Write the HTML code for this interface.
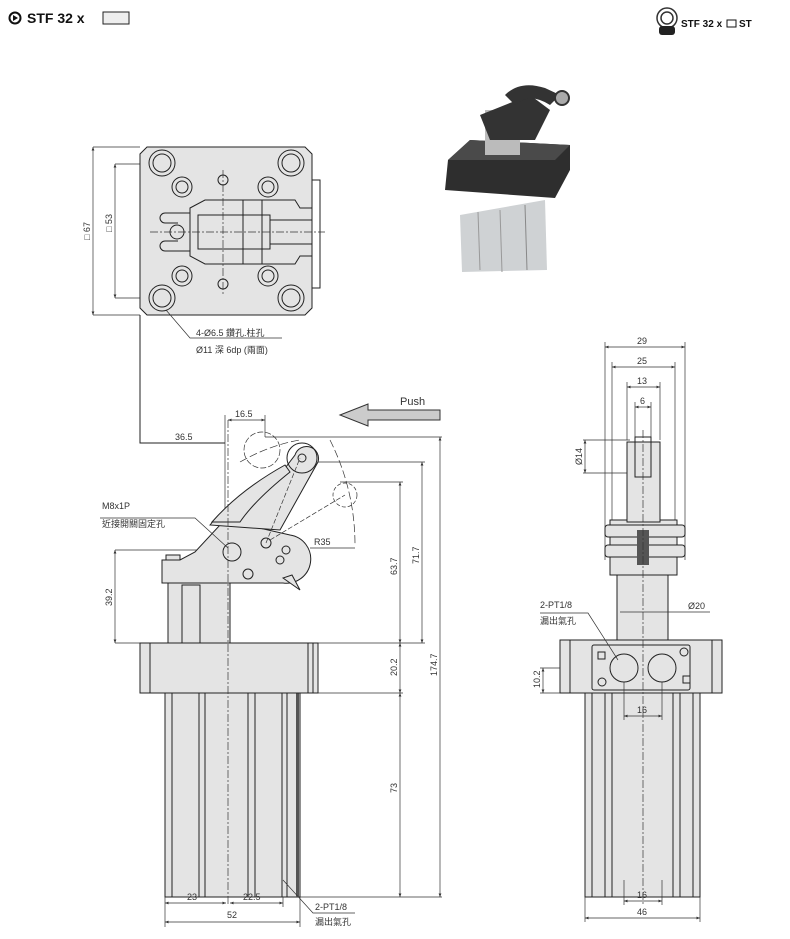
<!DOCTYPE html>
<html><head><meta charset="utf-8"><style>
body{margin:0;background:#fff;}
svg{display:block;font-family:"Liberation Sans","Noto Sans CJK TC",sans-serif;}
.l{stroke:#222;stroke-width:1;fill:none}
.t{stroke:#333;stroke-width:.7;fill:none}
.f{fill:#e4e4e4;stroke:#222;stroke-width:1}
.c{stroke:#333;stroke-width:.7;stroke-dasharray:8 2 2 2;fill:none}
text{font-size:9px;fill:#333}
</style></head><body>
<svg width="790" height="939" viewBox="0 0 790 939">
<defs><marker id="a" markerWidth="6" markerHeight="6" refX="5" refY="3" orient="auto-start-reverse"><path d="M0,1 L5,3 L0,5z" fill="#333"/></marker></defs>
<!-- header -->
<circle cx="15" cy="18" r="5.5" fill="none" stroke="#111" stroke-width="2"/><path d="M13,15 L18,18 L13,21z" fill="#111"/>
<text x="27" y="23" style="font-size:14px;font-weight:bold;fill:#111">STF 32 x</text>
<rect x="103" y="12" width="26" height="12" fill="#eee" stroke="#222"/>
<circle cx="667" cy="18" r="10" fill="none" stroke="#333" stroke-width="1.5"/><circle cx="667" cy="18" r="6" fill="none" stroke="#333" stroke-width="1.5"/><rect x="659" y="26" width="16" height="9" rx="3" fill="#222"/>
<text x="681" y="27" style="font-size:10px;font-weight:bold;fill:#111">STF 32 x</text><rect x="727" y="20" width="9" height="7" fill="none" stroke="#111"/><text x="739" y="27" style="font-size:10px;font-weight:bold;fill:#111">ST</text>
<!-- photo -->
<polygon points="460,215 545,200 547,270 462,272" fill="#cfd2d4"/>
<line x1="478" y1="212" x2="480" y2="270" stroke="#999"/><line x1="500" y1="210" x2="502" y2="272" stroke="#999"/><line x1="525" y1="205" x2="527" y2="270" stroke="#888"/>
<polygon points="448,160 470,140 570,145 570,170 555,198 445,190" fill="#2e2e2e"/>
<polygon points="448,160 470,140 570,145 555,160" fill="#4a4a4a"/>
<rect x="485" y="110" width="35" height="45" fill="#bbb"/>
<polygon points="480,115 530,95 550,110 535,140 490,140" fill="#333"/>
<path d="M505,95 Q520,80 545,88 L560,95 L550,105 Q530,92 515,105z" fill="#333"/><circle cx="562" cy="98" r="7" fill="#aaa" stroke="#333" stroke-width="2"/>
<!-- top view -->
<line class="t" x1="93" y1="147" x2="140" y2="147"/><line class="t" x1="93" y1="315" x2="140" y2="315"/>
<line class="t" x1="93" y1="147" x2="93" y2="315" marker-start="url(#a)" marker-end="url(#a)"/>
<line class="t" x1="115" y1="164" x2="160" y2="164"/><line class="t" x1="115" y1="298" x2="160" y2="298"/>
<line class="t" x1="115" y1="164" x2="115" y2="298" marker-start="url(#a)" marker-end="url(#a)"/>
<text transform="translate(90,240) rotate(-90)">□ 67</text><text transform="translate(112,232) rotate(-90)">□ 53</text>
<polygon class="f" points="147,147 305,147 312,154 312,308 305,315 147,315 140,308 140,154"/>
<rect class="l" x="312" y="180" width="8" height="108"/>
<g class="l">
<circle cx="162" cy="163" r="13"/><circle cx="162" cy="163" r="9"/><circle cx="291" cy="163" r="13"/><circle cx="291" cy="163" r="9"/>
<circle cx="162" cy="298" r="13"/><circle cx="162" cy="298" r="9"/><circle cx="291" cy="298" r="13"/><circle cx="291" cy="298" r="9"/>
<circle cx="182" cy="187" r="10"/><circle cx="182" cy="187" r="6"/><circle cx="268" cy="187" r="10"/><circle cx="268" cy="187" r="6"/>
<circle cx="182" cy="276" r="10"/><circle cx="182" cy="276" r="6"/><circle cx="268" cy="276" r="10"/><circle cx="268" cy="276" r="6"/>
<circle cx="223" cy="180" r="5"/><circle cx="223" cy="284" r="5"/>
<path d="M190,213 L165,213 A5,5 0 0 0 165,223 L178,223 M178,241 L165,241 A5,5 0 0 0 165,251 L190,251"/>
<circle cx="177" cy="232" r="7"/>
<polygon points="190,208 205,200 295,200 300,208 312,208 312,256 300,256 295,264 205,264 190,256" fill="#e4e4e4"/>
<rect x="198" y="215" width="72" height="34"/><rect x="270" y="220" width="42" height="24"/><line x1="243" y1="200" x2="243" y2="264"/><line x1="262" y1="200" x2="262" y2="264"/>
</g>
<line class="c" x1="150" y1="232" x2="325" y2="232"/><line class="c" x1="223" y1="170" x2="223" y2="295"/>
<polyline class="t" points="166,310 190,338 282,338"/>
<text x="196" y="336">4-Ø6.5 鑽孔.柱孔</text><text x="196" y="353">Ø11 深 6dp (兩面)</text>
<polyline class="l" points="140,315 140,443 225,443"/>
<text x="175" y="440">36.5</text>
<!-- push -->
<polygon points="340,415 368,404 368,410 440,410 440,420 368,420 368,426" fill="#ccc" stroke="#333"/>
<text x="400" y="405" style="font-size:11px">Push</text>
<!-- side view -->
<line class="t" x1="225" y1="415" x2="225" y2="620"/>
<line class="t" x1="228" y1="420" x2="265" y2="420" marker-start="url(#a)" marker-end="url(#a)"/><line class="t" x1="265" y1="415" x2="265" y2="437"/><text x="235" y="417">16.5</text>
<g class="t">
<line x1="265" y1="437" x2="442" y2="437"/><line x1="305" y1="462" x2="425" y2="462"/><line x1="340" y1="482" x2="403" y2="482"/>
<line x1="300" y1="897" x2="442" y2="897"/><line x1="318" y1="693" x2="403" y2="693"/><line x1="250" y1="643" x2="425" y2="643"/>
<line x1="115" y1="550" x2="230" y2="550"/><line x1="115" y1="643" x2="140" y2="643"/>
</g>
<line class="t" x1="440" y1="437" x2="440" y2="897" marker-start="url(#a)" marker-end="url(#a)"/>
<line class="t" x1="422" y1="462" x2="422" y2="643" marker-start="url(#a)" marker-end="url(#a)"/>
<line class="t" x1="400" y1="482" x2="400" y2="643" marker-start="url(#a)" marker-end="url(#a)"/>
<line class="t" x1="400" y1="643" x2="400" y2="693" marker-start="url(#a)" marker-end="url(#a)"/>
<line class="t" x1="400" y1="693" x2="400" y2="897" marker-start="url(#a)" marker-end="url(#a)"/>
<line class="t" x1="115" y1="550" x2="115" y2="643" marker-start="url(#a)" marker-end="url(#a)"/>
<text transform="translate(437,676) rotate(-90)">174.7</text><text transform="translate(419,564) rotate(-90)">71.7</text>
<text transform="translate(397,575) rotate(-90)">63.7</text><text transform="translate(397,676) rotate(-90)">20.2</text>
<text transform="translate(397,793) rotate(-90)">73</text><text transform="translate(112,606) rotate(-90)">39.2</text>
<!-- cylinder -->
<rect class="f" x="165" y="693" width="135" height="204"/>
<g class="l"><line x1="172" y1="693" x2="172" y2="897"/><line x1="199" y1="693" x2="199" y2="897"/><line x1="205" y1="693" x2="205" y2="897"/>
<line x1="248" y1="693" x2="248" y2="897"/><line x1="255" y1="693" x2="255" y2="897"/><line x1="282" y1="693" x2="282" y2="897"/><line x1="287" y1="693" x2="287" y2="897"/></g>
<rect x="296" y="693" width="3" height="204" fill="#555"/>
<rect class="f" x="140" y="643" width="178" height="50"/><line class="l" x1="150" y1="643" x2="150" y2="693"/><rect class="l" x="308" y="643" width="5" height="50"/>
<!-- upper -->
<rect class="f" x="168" y="570" width="62" height="73"/><rect class="l" x="182" y="585" width="18" height="58"/>
<rect class="f" x="166" y="555" width="14" height="15"/>
<path class="f" d="M162,570 L162,583 L250,583 L283,583 A22,22 0 0 0 290,535 L255,527 L220,525 L195,552 L180,560 L162,560z"/>
<path class="f" d="M210,525 Q225,505 270,488 L295,455 A12,12 0 0 1 318,462 L280,530z"/>
<path class="f" d="M212,522 Q240,490 285,465 L290,472 Q255,500 240,522z"/>
<circle class="l" cx="302" cy="458" r="15"/><circle class="l" cx="302" cy="458" r="4"/>
<path class="f" d="M283,578 L300,590 L292,575z"/>
<circle class="l" cx="232" cy="552" r="9"/><circle class="l" cx="266" cy="543" r="5"/><circle class="l" cx="248" cy="574" r="5"/><circle class="l" cx="280" cy="560" r="4"/><circle class="l" cx="286" cy="550" r="4"/>
<path class="t" d="M266,543 L300,458 M270,540 L345,495" stroke-dasharray="5 2"/>
<circle class="t" cx="345" cy="495" r="12" stroke-dasharray="4 2"/><circle class="t" cx="262" cy="450" r="18" stroke-dasharray="6 2"/>
<path class="t" d="M240,462 Q270,445 300,440 M330,440 Q355,490 355,545" stroke-dasharray="8 3"/>
<line class="t" x1="310" y1="548" x2="355" y2="548"/><text x="314" y="545">R35</text>
<line class="c" x1="228" y1="420" x2="228" y2="905"/>
<polyline class="t" points="100,518 195,518 228,548"/><text x="102" y="509">M8x1P</text><text x="102" y="527">近接開關固定孔</text>
<!-- bottom dims -->
<g class="t"><line x1="165" y1="897" x2="165" y2="927"/><line x1="300" y1="897" x2="300" y2="927"/><line x1="283" y1="897" x2="283" y2="907"/></g>
<line class="t" x1="165" y1="903" x2="226" y2="903" marker-start="url(#a)" marker-end="url(#a)"/>
<line class="t" x1="230" y1="903" x2="283" y2="903" marker-start="url(#a)" marker-end="url(#a)"/>
<line class="t" x1="165" y1="922" x2="300" y2="922" marker-start="url(#a)" marker-end="url(#a)"/>
<text x="187" y="900">23</text><text x="243" y="900">22.5</text><text x="227" y="918">52</text>
<polyline class="t" points="283,880 313,913 355,913"/><text x="315" y="910">2-PT1/8</text><text x="315" y="925">漏出氣孔</text>
<!-- right view -->
<g class="t"><line x1="605" y1="342" x2="605" y2="560"/><line x1="685" y1="342" x2="685" y2="560"/>
<line x1="612" y1="362" x2="612" y2="525"/><line x1="675" y1="362" x2="675" y2="525"/>
<line x1="627" y1="382" x2="627" y2="440"/><line x1="660" y1="382" x2="660" y2="440"/>
<line x1="635" y1="402" x2="635" y2="440"/><line x1="651" y1="402" x2="651" y2="440"/>
<line x1="583" y1="440" x2="630" y2="440"/><line x1="583" y1="473" x2="640" y2="473"/></g>
<line class="t" x1="605" y1="347" x2="685" y2="347" marker-start="url(#a)" marker-end="url(#a)"/>
<line class="t" x1="612" y1="367" x2="675" y2="367" marker-start="url(#a)" marker-end="url(#a)"/>
<line class="t" x1="627" y1="387" x2="660" y2="387" marker-start="url(#a)" marker-end="url(#a)"/>
<line class="t" x1="635" y1="407" x2="651" y2="407" marker-start="url(#a)" marker-end="url(#a)"/>
<line class="t" x1="585" y1="440" x2="585" y2="473" marker-start="url(#a)" marker-end="url(#a)"/>
<text x="637" y="344">29</text><text x="637" y="364">25</text><text x="637" y="384">13</text><text x="640" y="404">6</text>
<text transform="translate(582,465) rotate(-90)">Ø14</text>
<rect class="f" x="585" y="693" width="115" height="204"/>
<g class="l"><line x1="592" y1="693" x2="592" y2="897"/><line x1="605" y1="693" x2="605" y2="897"/><line x1="612" y1="693" x2="612" y2="897"/>
<line x1="673" y1="693" x2="673" y2="897"/><line x1="680" y1="693" x2="680" y2="897"/><line x1="693" y1="693" x2="693" y2="897"/></g>
<rect class="f" x="560" y="640" width="162" height="53"/><line class="l" x1="570" y1="640" x2="570" y2="693"/><line class="l" x1="712" y1="640" x2="712" y2="693"/>
<rect class="f" x="592" y="645" width="98" height="45" rx="2"/>
<circle class="l" cx="624" cy="668" r="14"/><circle class="l" cx="662" cy="668" r="14"/>
<circle class="l" cx="684" cy="652" r="4"/><circle class="l" cx="602" cy="682" r="4"/>
<rect class="l" x="598" y="652" width="7" height="7"/><rect class="l" x="683" y="676" width="7" height="7"/>
<rect class="f" x="617" y="575" width="51" height="65"/>
<rect class="f" x="610" y="520" width="67" height="55"/>
<rect class="f" x="605" y="525" width="80" height="12" rx="3"/><rect class="f" x="605" y="545" width="80" height="12" rx="3"/>
<rect class="f" x="627" y="442" width="33" height="80"/><rect class="l" x="635" y="437" width="16" height="40"/>
<rect x="637" y="530" width="12" height="35" fill="#555"/>
<line class="c" x1="643" y1="430" x2="643" y2="905"/>
<line class="t" x1="620" y1="612" x2="710" y2="612"/><text x="688" y="609">Ø20</text>
<polyline class="t" points="540,613 588,613 618,660"/><text x="540" y="608">2-PT1/8</text><text x="540" y="624">漏出氣孔</text>
<line class="t" x1="540" y1="668" x2="560" y2="668"/><line class="t" x1="540" y1="693" x2="560" y2="693"/>
<line class="t" x1="543" y1="668" x2="543" y2="693" marker-start="url(#a)" marker-end="url(#a)"/><text transform="translate(540,688) rotate(-90)">10.2</text>
<line class="t" x1="624" y1="682" x2="624" y2="720"/><line class="t" x1="662" y1="682" x2="662" y2="720"/>
<line class="t" x1="624" y1="716" x2="662" y2="716" marker-start="url(#a)" marker-end="url(#a)"/><text x="637" y="713">16</text>
<g class="t"><line x1="585" y1="897" x2="585" y2="922"/><line x1="700" y1="897" x2="700" y2="922"/><line x1="624" y1="880" x2="624" y2="905"/><line x1="662" y1="880" x2="662" y2="905"/></g>
<line class="t" x1="624" y1="901" x2="662" y2="901" marker-start="url(#a)" marker-end="url(#a)"/><text x="637" y="898">16</text>
<line class="t" x1="585" y1="918" x2="700" y2="918" marker-start="url(#a)" marker-end="url(#a)"/><text x="637" y="915">46</text>
</svg>
</body></html>
